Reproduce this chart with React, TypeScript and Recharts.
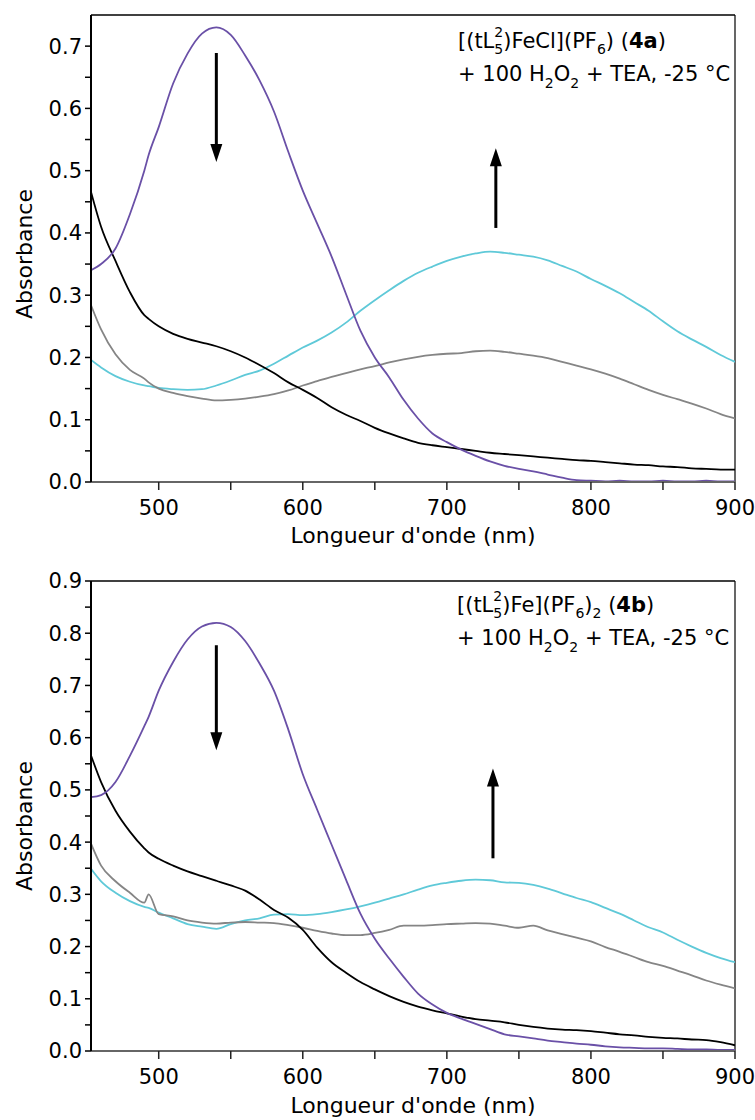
import React from 'react';
import { LineChart, Line, XAxis, YAxis, ReferenceLine, ReferenceDot, Label } from 'recharts';

const FONT = 'DejaVu Sans';

// wavelengths (nm) shared by every trace
const WAVELENGTHS = [
  453, 460, 470, 480, 490, 493,
  500, 510, 520, 530, 540, 550, 560, 570, 580, 590,
  600, 610, 620, 630, 640, 650, 660, 670, 680, 690,
  700, 710, 720, 730, 740, 750, 760, 770, 780, 790,
  800, 810, 820, 830, 840, 850, 860, 870, 880, 890,
  900,
];

// 4a panel
const TOP_VIOLET = [
  0.340, 0.350, 0.375, 0.430, 0.500, 0.525,
  0.570, 0.640, 0.688, 0.720, 0.730, 0.718, 0.685, 0.645, 0.595, 0.530,
  0.468, 0.415, 0.362, 0.302, 0.243, 0.200, 0.168, 0.132, 0.102, 0.078,
  0.064, 0.052, 0.042, 0.033, 0.026, 0.021, 0.017, 0.012, 0.007, 0.003,
  0.002, 0.001, 0.002, 0.001, 0.001, 0.002, 0.001, 0.001, 0.002, 0.001,
  0.001,
];
const TOP_BLACK = [
  0.466, 0.410, 0.355, 0.305, 0.268, 0.262,
  0.250, 0.238, 0.230, 0.224, 0.218, 0.210, 0.200, 0.188, 0.175, 0.160,
  0.148, 0.135, 0.120, 0.108, 0.098, 0.087, 0.078, 0.070, 0.063, 0.059,
  0.056, 0.053, 0.050, 0.047, 0.045, 0.043, 0.041, 0.039, 0.037, 0.035,
  0.034, 0.032, 0.030, 0.028, 0.027, 0.025, 0.024, 0.022, 0.021, 0.020,
  0.020,
];
const TOP_GRAY = [
  0.284, 0.245, 0.205, 0.180, 0.166, 0.160,
  0.150, 0.143, 0.138, 0.134, 0.131, 0.132, 0.134, 0.137, 0.141, 0.147,
  0.155, 0.162, 0.169, 0.175, 0.181, 0.186, 0.192, 0.197, 0.201, 0.204,
  0.206, 0.207, 0.210, 0.211, 0.209, 0.206, 0.203, 0.199, 0.193, 0.187,
  0.181, 0.174, 0.166, 0.157, 0.148, 0.140, 0.133, 0.126, 0.118, 0.109,
  0.102,
];
const TOP_CYAN = [
  0.196, 0.184, 0.170, 0.161, 0.155, 0.154,
  0.151, 0.149, 0.148, 0.149, 0.155, 0.163, 0.172, 0.179, 0.190, 0.203,
  0.216, 0.227, 0.240, 0.256, 0.275, 0.292, 0.308, 0.323, 0.336, 0.346,
  0.355, 0.362, 0.367, 0.370, 0.368, 0.365, 0.362, 0.356, 0.347, 0.338,
  0.326, 0.315, 0.303, 0.289, 0.275, 0.258, 0.242, 0.229, 0.217, 0.204,
  0.193,
];

// 4b panel
const BOTTOM_VIOLET = [
  0.486, 0.490, 0.515, 0.565, 0.622, 0.640,
  0.690, 0.745, 0.788, 0.813, 0.820, 0.812, 0.785, 0.742, 0.690, 0.615,
  0.530, 0.462, 0.395, 0.328, 0.263, 0.215, 0.177, 0.142, 0.110, 0.089,
  0.073, 0.062, 0.052, 0.042, 0.032, 0.028, 0.024, 0.020, 0.017, 0.014,
  0.012, 0.009, 0.007, 0.006, 0.005, 0.005, 0.004, 0.003, 0.003, 0.002,
  0.002,
];
const BOTTOM_BLACK = [
  0.566, 0.515, 0.460, 0.420, 0.388, 0.380,
  0.368, 0.355, 0.344, 0.335, 0.326, 0.317, 0.307, 0.290, 0.270, 0.255,
  0.232, 0.198, 0.170, 0.150, 0.132, 0.118, 0.105, 0.094, 0.085, 0.078,
  0.072, 0.066, 0.061, 0.058, 0.055, 0.050, 0.046, 0.043, 0.041, 0.040,
  0.038, 0.035, 0.032, 0.030, 0.027, 0.025, 0.024, 0.022, 0.021, 0.017,
  0.011,
];
const BOTTOM_GRAY = [
  0.397, 0.355, 0.325, 0.303, 0.284, 0.300,
  0.262, 0.258, 0.250, 0.246, 0.244, 0.246, 0.247, 0.246, 0.245, 0.241,
  0.236, 0.230, 0.225, 0.222, 0.222, 0.226, 0.232, 0.240, 0.240, 0.241,
  0.243, 0.244, 0.245, 0.244, 0.240, 0.236, 0.240, 0.231, 0.224, 0.217,
  0.210, 0.199, 0.190, 0.180, 0.170, 0.163, 0.154, 0.145, 0.135, 0.127,
  0.120,
];
const BOTTOM_CYAN = [
  0.349, 0.325, 0.303, 0.287, 0.276, 0.274,
  0.265, 0.254, 0.243, 0.238, 0.234, 0.243, 0.250, 0.254, 0.261, 0.262,
  0.260, 0.262, 0.266, 0.271, 0.277, 0.284, 0.292, 0.300, 0.309, 0.317,
  0.322, 0.326, 0.328, 0.327, 0.323, 0.322, 0.318, 0.311, 0.302, 0.293,
  0.285, 0.274, 0.263, 0.250, 0.237, 0.227, 0.213, 0.200, 0.188, 0.178,
  0.170,
];

const X_TICKS = [500, 550, 600, 650, 700, 750, 800, 850, 900];
const TOP_Y_TICKS = [0, 0.05, 0.1, 0.15, 0.2, 0.25, 0.3, 0.35, 0.4, 0.45, 0.5, 0.55, 0.6, 0.65, 0.7];
const BOTTOM_Y_TICKS = [0, 0.05, 0.1, 0.15, 0.2, 0.25, 0.3, 0.35, 0.4, 0.45, 0.5, 0.55, 0.6, 0.65, 0.7, 0.75, 0.8, 0.85, 0.9];

// arrows: x in nm, tail / neck / tip in absorbance
const TOP_ARROWS = [
  { x: 540, tail: 0.689, neck: 0.536, tip: 0.514 },
  { x: 734, tail: 0.408, neck: 0.514, tip: 0.536 },
];
const BOTTOM_ARROWS = [
  { x: 540, tail: 0.777, neck: 0.603, tip: 0.576 },
  { x: 732, tail: 0.369, neck: 0.514, tip: 0.541 },
];

const COLORS = { violet: '#6a50a7', black: '#000000', gray: '#858585', cyan: '#5fc9d8' };

const buildRows = (violet: number[], black: number[], gray: number[], cyan: number[]) =>
  WAVELENGTHS.map((nm, i) => ({ nm, violet: violet[i], black: black[i], gray: gray[i], cyan: cyan[i] }));

const topRows = buildRows(TOP_VIOLET, TOP_BLACK, TOP_GRAY, TOP_CYAN);
const bottomRows = buildRows(BOTTOM_VIOLET, BOTTOM_BLACK, BOTTOM_GRAY, BOTTOM_CYAN);

const isMajor = (v: number, step: number) => Math.abs(v / step - Math.round(v / step)) < 1e-6;

type Arrow = { x: number; tail: number; neck: number; tip: number };

function arrowHead(pointsUp: boolean) {
  return (p: any) => {
    const { cx, cy } = p;
    const base = pointsUp ? cy + 18 : cy - 18;
    return <path d={`M${cx - 6},${base} L${cx + 6},${base} L${cx},${cy} Z`} fill="#000" />;
  };
}

interface PanelProps {
  rows: typeof topRows;
  yMax: number;
  yTicks: number[];
  arrows: Arrow[];
  height: number;
  marginTop: number;
  marginBottom: number;
  xLabelY: number;
  yLabelY: number;
}

function SpectrumPanel({ rows, yMax, yTicks, arrows, height, marginTop, marginBottom, xLabelY, yLabelY }: PanelProps) {
  return (
    <LineChart
      width={755}
      height={height}
      data={rows}
      margin={{ top: marginTop, right: 20, bottom: marginBottom, left: 31 }}
    >
      <XAxis
        dataKey="nm"
        type="number"
        domain={[453, 900]}
        allowDataOverflow
        ticks={X_TICKS}
        interval={0}
        tickFormatter={(v: number) => (isMajor(v, 100) ? String(v) : '')}
        height={60}
        tickSize={8}
        tickMargin={10}
        axisLine={{ stroke: '#666', strokeWidth: 2 }}
        tickLine={{ stroke: '#222', strokeWidth: 1.5 }}
        tick={{ fontSize: 21, fontFamily: FONT, fill: '#000' }}
      >
        <Label
          content={() => (
            <text x={413} y={xLabelY} textAnchor="middle" fontSize={22} fontFamily={FONT} fill="#000">
              Longueur d'onde (nm)
            </text>
          )}
        />
      </XAxis>
      <YAxis
        type="number"
        domain={[0, yMax]}
        allowDataOverflow
        ticks={yTicks}
        interval={0}
        tickFormatter={(v: number) => (isMajor(v, 0.1) ? v.toFixed(1) : '')}
        width={60}
        tickSize={6}
        tickMargin={3}
        axisLine={{ stroke: '#000', strokeWidth: 2 }}
        tickLine={{ stroke: '#000', strokeWidth: 1.5 }}
        tick={{ fontSize: 21, fontFamily: FONT, fill: '#000' }}
      >
        <Label
          content={() => (
            <text
              x={32}
              y={yLabelY}
              transform={`rotate(-90 32 ${yLabelY})`}
              textAnchor="middle"
              fontSize={22}
              fontFamily={FONT}
              fill="#000"
            >
              Absorbance
            </text>
          )}
        />
      </YAxis>

      <ReferenceLine y={yMax} stroke="#000" strokeWidth={1.5} />
      <ReferenceLine x={900} stroke="#000" strokeWidth={1.2} />

      <Line type="monotone" dataKey="cyan" stroke={COLORS.cyan} strokeWidth={1.8} dot={false} isAnimationActive={false} />
      <Line type="monotone" dataKey="gray" stroke={COLORS.gray} strokeWidth={1.8} dot={false} isAnimationActive={false} />
      <Line type="monotone" dataKey="black" stroke={COLORS.black} strokeWidth={1.8} dot={false} isAnimationActive={false} />
      <Line type="monotone" dataKey="violet" stroke={COLORS.violet} strokeWidth={1.8} dot={false} isAnimationActive={false} />

      {arrows.map((a, i) => (
        <ReferenceLine
          key={`shaft-${i}`}
          segment={[{ x: a.x, y: a.tail }, { x: a.x, y: a.neck }]}
          stroke="#000"
          strokeWidth={3}
        />
      ))}
      {arrows.map((a, i) => (
        <ReferenceDot key={`head-${i}`} x={a.x} y={a.tip} r={1} shape={arrowHead(a.tip > a.tail)} />
      ))}
    </LineChart>
  );
}

const sub = { fontSize: 14 };

export default function App() {
  return (
    <div style={{ position: 'absolute', left: 0, top: 0, width: 755, height: 1120, background: '#fff' }}>
      <div style={{ position: 'absolute', left: 0, top: 0 }}>
        <SpectrumPanel
          rows={topRows}
          yMax={0.75}
          yTicks={TOP_Y_TICKS}
          arrows={TOP_ARROWS}
          height={560}
          marginTop={15}
          marginBottom={18}
          xLabelY={543}
          yLabelY={254}
        />
      </div>
      <div style={{ position: 'absolute', left: 0, top: 565 }}>
        <SpectrumPanel
          rows={bottomRows}
          yMax={0.9}
          yTicks={BOTTOM_Y_TICKS}
          arrows={BOTTOM_ARROWS}
          height={555}
          marginTop={16}
          marginBottom={9}
          xLabelY={548}
          yLabelY={261}
        />
      </div>
      <svg
        width={755}
        height={1120}
        style={{ position: 'absolute', left: 0, top: 0, pointerEvents: 'none' }}
        fontFamily={FONT}
        fontSize={21}
        fill="#000"
      >
        <text x={458} y={48}>
          [(tL<tspan {...sub} dy={6}>5</tspan>
          <tspan {...sub} dx={-8.9} dy={-17}>2</tspan>
          <tspan dy={11}>)FeCl](PF</tspan>
          <tspan {...sub} dy={6}>6</tspan>
          <tspan dy={-6}>{') ('}</tspan>
          <tspan fontWeight="bold">4a</tspan>)
        </text>
        <text x={458} y={81}>
          + 100 H<tspan {...sub} dy={7}>2</tspan>
          <tspan dy={-7}>O</tspan>
          <tspan {...sub} dy={7}>2</tspan>
          <tspan dy={-7}>{' + TEA, -25 °C'}</tspan>
        </text>

        <text x={457} y={612}>
          [(tL<tspan {...sub} dy={6}>5</tspan>
          <tspan {...sub} dx={-8.9} dy={-17}>2</tspan>
          <tspan dy={11}>)Fe](PF</tspan>
          <tspan {...sub} dy={6}>6</tspan>
          <tspan dy={-6}>)</tspan>
          <tspan {...sub} dy={6}>2</tspan>
          <tspan dy={-6}>{' ('}</tspan>
          <tspan fontWeight="bold">4b</tspan>)
        </text>
        <text x={457} y={645}>
          + 100 H<tspan {...sub} dy={7}>2</tspan>
          <tspan dy={-7}>O</tspan>
          <tspan {...sub} dy={7}>2</tspan>
          <tspan dy={-7}>{' + TEA, -25 °C'}</tspan>
        </text>
      </svg>
    </div>
  );
}
